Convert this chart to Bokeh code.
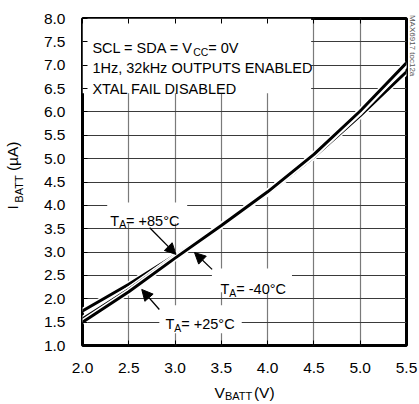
from bokeh.plotting import figure
from bokeh.models import (Range1d, FixedTicker, LinearAxis, Label, Arrow, NormalHead,
                          BoxAnnotation)
from bokeh.embed import file_html
from bokeh.resources import INLINE

# ---- data ----
v_batt = [2.0, 2.5, 3.0, 3.5, 4.0, 4.5, 5.0, 5.5]
i_85 = [1.74, 2.31, 2.93, 3.56, 4.26, 5.04, 5.92, 6.86]
i_m40 = [1.57, 2.20, 2.90, 3.58, 4.29, 5.08, 6.00, 7.02]
i_25 = [1.50, 2.15, 2.87, 3.57, 4.29, 5.09, 6.02, 7.05]

x_ticks = [2.0, 2.5, 3.0, 3.5, 4.0, 4.5, 5.0, 5.5]
x_tick_labels = ["2.0", "2.5", "3.0", "3.5", "4.0", "4.5", "5.0", "5.5"]
y_ticks = [1.0, 1.5, 2.0, 2.5, 3.0, 3.5, 4.0, 4.5, 5.0, 5.5, 6.0, 6.5, 7.0, 7.5, 8.0]
y_tick_labels = ["1.0", "1.5", "2.0", "2.5", "3.0", "3.5", "4.0", "4.5", "5.0", "5.5",
                 "6.0", "6.5", "7.0", "7.5", "8.0"]

FONT = "Liberation Sans"
FS = 14.5
TICK_FS = 15.5
SUB_FS = 11

p = figure(width=419, height=404, output_backend="svg", toolbar_location=None,
           x_range=Range1d(2.0, 5.5), y_range=Range1d(1.0, 8.0),
           min_border_left=82, min_border_right=9, min_border_top=18,
           min_border_bottom=58)
p.background_fill_color = "white"
p.border_fill_color = "white"
p.outline_line_color = "black"
p.outline_line_width = 3
p.outline_line_alpha = 1.0

for ax, ticks, labels in ((p.xaxis[0], x_ticks, x_tick_labels), (p.yaxis[0], y_ticks, y_tick_labels)):
    ax.ticker = FixedTicker(ticks=ticks)
    ax.major_label_overrides = dict(zip(ticks, labels))
    ax.major_tick_in = 5
    ax.major_tick_out = 0
    ax.minor_tick_in = 0
    ax.minor_tick_out = 0
    ax.major_tick_line_color = "black"
    ax.major_tick_line_width = 1
    ax.axis_line_color = None
    ax.major_label_text_font = FONT
    ax.major_label_text_font_size = f"{TICK_FS}px"
    ax.major_label_text_color = "black"
p.xaxis[0].major_label_standoff = 17
p.yaxis[0].major_label_standoff = 17

top = LinearAxis(ticker=FixedTicker(ticks=x_ticks),
                 major_label_overrides={t: "" for t in x_ticks},
                 major_tick_in=5, major_tick_out=0, minor_tick_in=0, minor_tick_out=0,
                 axis_line_color=None, major_label_standoff=0,
                 major_tick_line_color="black")
p.add_layout(top, "above")


def text_axis(place, positions, texts, size, standoff, orientation="horizontal", color="black"):
    ax = LinearAxis(ticker=FixedTicker(ticks=positions),
                    major_label_overrides=dict(zip(positions, texts)),
                    major_tick_in=0, major_tick_out=0, minor_tick_in=0, minor_tick_out=0,
                    axis_line_color=None, major_tick_line_color=None,
                    minor_tick_line_color=None, major_label_standoff=standoff,
                    major_label_text_font=FONT, major_label_text_font_size=f"{size}px",
                    major_label_text_color=color, major_label_orientation=orientation)
    p.add_layout(ax, place)


# axis titles, built from label pieces so that the subscripts can be drawn
x_title_pos = [3.481, 3.963]
x_title_txt = ["V", "(V)"]
x_sub_pos = [3.686]
x_sub_txt = ["BATT"]
y_title_pos = [3.96, 5.05]
y_title_txt = ["I", "(µA)"]
y_sub_pos = [4.35]
y_sub_txt = ["BATT"]

text_axis("below", x_title_pos, x_title_txt, TICK_FS, 8)
text_axis("below", x_sub_pos, x_sub_txt, SUB_FS, -14)
text_axis("left", y_sub_pos, y_sub_txt, SUB_FS, 15, orientation="vertical")
text_axis("left", y_title_pos, y_title_txt, TICK_FS, -11, orientation="vertical")
text_axis("right", [7.42], ["MAX6917 toc12a"], 8, 1, orientation="vertical", color="#555555")

p.xgrid.ticker = FixedTicker(ticks=x_ticks)
p.ygrid.ticker = FixedTicker(ticks=y_ticks)
p.xgrid.grid_line_color = "#7a7a7a"
p.ygrid.grid_line_color = "#3a3a3a"
p.xgrid.grid_line_width = 1.2
p.ygrid.grid_line_width = 1.2

# white boxes that hide the grid behind text
for (l, r, b, t) in ((2.0, 4.47, 6.40, 8.0),
                     (2.267, 3.131, 3.61, 4.06),
                     (3.398, 4.263, 2.14, 2.65),
                     (2.83, 3.72, 1.26, 1.86)):
    p.add_layout(BoxAnnotation(left=l, right=r, bottom=b, top=t, fill_color="white",
                               fill_alpha=1.0, line_color=None, level="glyph"))

# curves
for ys in (i_85, i_m40, i_25):
    p.line(v_batt, ys, line_color="white", line_width=6)
    p.line(v_batt, ys, line_color="black", line_width=3)

# text with subscripts
W = {' ': 278, '=': 584, '+': 584, '-': 333, '°': 400, 'C': 722, 'T': 611, 'A': 667,
     'V': 667, 'B': 667, 'I': 278, '(': 333, ')': 333, 'µ': 576, '.': 278, ',': 278,
     'S': 667, 'D': 722, 'L': 556, 'H': 722, 'z': 500, 'k': 500, 'O': 778, 'U': 722,
     'P': 667, 'E': 667, 'N': 722, 'X': 667, 'F': 611}


def tw(s, fs):
    return sum(W.get(c, 556) for c in s) * fs / 1000.0


def rich(x, y, parts, fs=FS):
    off = 0.0
    for txt, sub in parts:
        f = fs * 0.72 if sub else fs
        shift = 4 if sub else 0
        p.add_layout(Label(x=x, y=y, x_offset=off, y_offset=-shift, text=txt,
                           text_font=FONT, text_font_size=f"{f}px", text_color="black",
                           text_baseline="alphabetic", text_align="left"))
        off += tw(txt, f)


rich(2.107, 7.36, [("SCL = SDA = V", False), ("CC", True), (" = 0V", False)])
rich(2.107, 6.93, [("1Hz, 32kHz OUTPUTS ENABLED", False)])
rich(2.107, 6.50, [("XTAL FAIL DISABLED", False)])

rich(2.30, 3.67, [("T", False), ("A", True), (" = +85°C", False)])
rich(3.49, 2.20, [("T", False), ("A", True), (" = -40°C", False)])
rich(2.896, 1.455, [("T", False), ("A", True), (" = +25°C", False)])

for (xs, ys, xe, ye) in ((2.726, 3.52, 3.01, 2.95),
                         (3.40, 2.63, 3.21, 2.99),
                         (2.83, 1.77, 2.64, 2.20)):
    p.add_layout(Arrow(end=NormalHead(size=11, fill_color="black", line_color="black"),
                       x_start=xs, y_start=ys, x_end=xe, y_end=ye,
                       line_color="black", line_width=1.3))

open("out.html", "w").write(file_html(p, INLINE))
